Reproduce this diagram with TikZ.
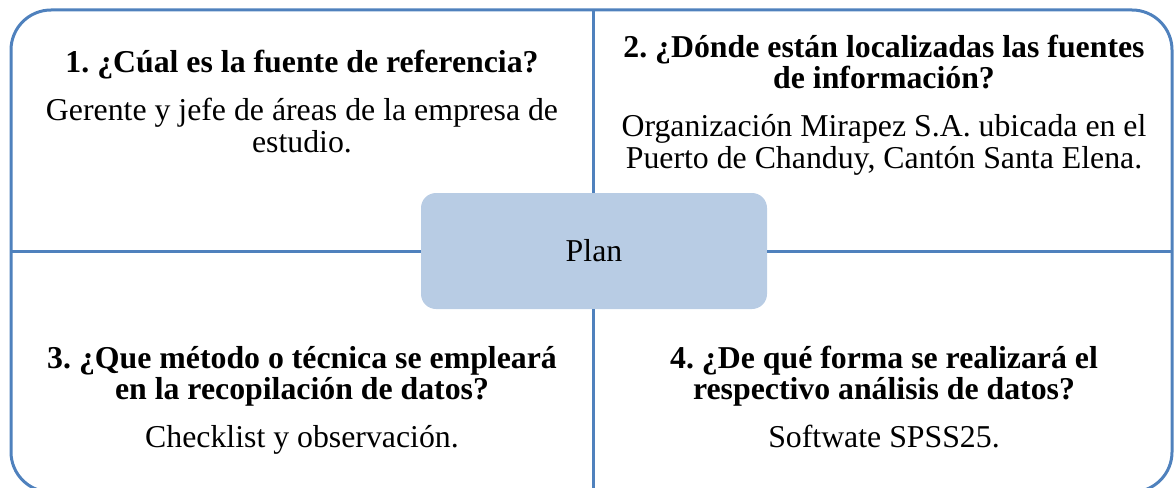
\documentclass[tikz,border=0pt]{standalone}
\usepackage{fontspec}
\setmainfont{Liberation Serif}
\frenchspacing
\definecolor{frameblue}{HTML}{4F81BD}
\definecolor{planfill}{HTML}{B8CCE4}
\begin{document}
\begin{tikzpicture}[x=1pt,y=-1pt,
  frame/.style={draw=frameblue,line width=3pt},
  ttl/.style={font=\fontsize{31.8}{32}\selectfont\bfseries,anchor=base,inner sep=0pt},
  bdy/.style={font=\fontsize{31.8}{32}\selectfont,anchor=base,inner sep=0pt},
  planbox/.style={fill=planfill,draw=none,rounded corners=15pt,minimum width=346pt,minimum height=116pt,font=\fontsize{31.8}{32}\selectfont,inner sep=0pt}]
\useasboundingbox (0,0) rectangle (1174,487);
\begin{scope}
\clip (0,0) rectangle (1174,487);
\draw[frame,rounded corners=40pt] (11,10) rectangle (1172,492);
\node[planbox] (plan) at (594,251) {Plan};
\coordinate (top) at (593,10);
\coordinate (bot) at (593,492);
\coordinate (lft) at (11,251);
\coordinate (rgt) at (1172,251);
\draw[frame] (top) -- (plan.north -| top);
\draw[frame] (plan.south -| bot) -- (bot);
\draw[frame] (lft) -- (plan.west);
\draw[frame] (plan.east) -- (rgt);
\end{scope}
% Quadrant 1
\node[ttl] (q1t) at (302,72) {1. ¿Cúal es la fuente de referencia?};
\node[bdy] (q1a) at (302,120) {Gerente y jefe de áreas de la empresa de};
\node[bdy] (q1b) at (302,152) {estudio.};
% Quadrant 2
\node[ttl] (q2t) at (884,57) {2. ¿Dónde están localizadas las fuentes};
\node[ttl] (q2u) at (884,88) {de información?};
\node[bdy] (q2a) at (884,136) {Organización Mirapez S.A. ubicada en el};
\node[bdy] (q2b) at (884,168) {Puerto de Chanduy, Cantón Santa Elena.};
% Quadrant 3
\node[ttl] (q3t) at (302,368) {3. ¿Que método o técnica se empleará};
\node[ttl] (q3u) at (302,399) {en la recopilación de datos?};
\node[bdy] (q3a) at (302,447) {Checklist y observación.};
% Quadrant 4
\node[ttl] (q4t) at (884,368) {4. ¿De qué forma se realizará el};
\node[ttl] (q4u) at (884,399) {respectivo análisis de datos?};
\node[bdy] (q4a) at (884,447) {Softwate SPSS25.};
\end{tikzpicture}
\end{document}
